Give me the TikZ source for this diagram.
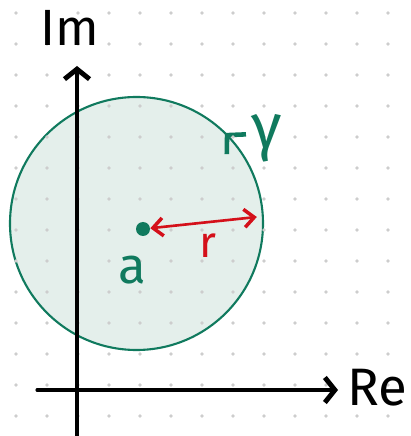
\documentclass[tikz,border=0pt]{standalone}
\usepackage{fontspec}
\setmainfont{Fira Sans}
\usetikzlibrary{
  arrows.meta,
  calc,
  decorations.markings
}
\definecolor{gamma_green}{RGB}{16, 122, 94}
\definecolor{disc_fill}{RGB}{228, 239, 235}
\definecolor{radius_red}{RGB}{212, 16, 26}
\definecolor{dot_gray}{RGB}{205, 205, 205}

\begin{document}
\begin{tikzpicture}[
    x=0.02cm, y=0.02cm,
    % Styles
    axis_line/.style={
        line width=1.8pt, black, line cap=round, -{Straight Barb[length=0.2cm, width=0.5cm, line width=2.8pt]}
    },
    contour_line/.style={
        draw=gamma_green, fill=disc_fill, line width=1.2pt
    },
    radius_line/.style={
        line width=1.5pt, radius_red, {Straight Barb[length=0.2cm, width=0.36cm, line width=2pt]}-{Straight Barb[length=0.2cm, width=0.36cm, line width=2pt]}
    },
    hand_label/.style={
        font=\fontsize{29}{31}\selectfont, inner sep=0pt
    }
]
\useasboundingbox (0,0) rectangle (410,436);

% 1. Contour gamma (disc)
\coordinate (centre) at (136.5,212.5);
\path[contour_line, postaction={decorate}, decoration={markings,
    mark=at position 0.127 with {\arrow[gamma_green, line width=2.6pt]{Straight Barb[length=0.26cm, width=0.55cm]}}}]
    (centre) circle[radius=126.5];

% 2. Dot grid
\foreach \i in {0,...,12}
  \foreach \j in {0,...,13}
    \fill[dot_gray] (16+31*\i, 423-31*\j) circle[radius=1.8];

% 3. Axes
\coordinate (im_start) at (77,0);
\coordinate (im_end) at (77,370);
\coordinate (re_start) at (37,46);
\coordinate (re_end) at (338,46);
\draw[axis_line] (im_start) -- (im_end);
\draw[axis_line] (re_start) -- (re_end);
\node[hand_label] (im_lbl) at (70,408) {Im};
\node[hand_label, font=\fontsize{30}{32}\selectfont] (re_lbl) at (377,48) {Re};

% 4. Centre a and radius r
\node[circle, fill=gamma_green, inner sep=0pt, minimum size=0.28cm] (a_pt) at (143,207) {};
\node[hand_label, text=gamma_green] (a_lbl) at (132,166) {a};
\coordinate (r_tip) at ($(centre)+(3.1:120.5)$);
\draw[radius_line] (a_pt) -- (r_tip);
\node[hand_label, text=radius_red, font=\fontsize{25}{27}\selectfont] (r_lbl) at (208,190) {r};
\node[hand_label, text=gamma_green, font=\fontsize{36}{38}\selectfont] (gamma_lbl) at (267,298) {γ};

\end{tikzpicture}
\end{document}
